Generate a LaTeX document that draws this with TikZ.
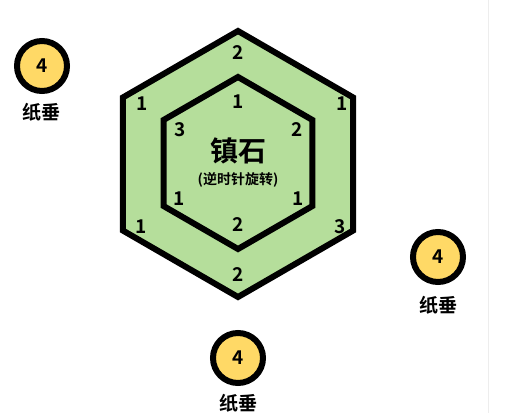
\documentclass[tikz,border=0pt]{standalone}
\usepackage{fontspec}
\setmainfont{Noto Sans CJK SC}[BoldFont={Noto Sans CJK SC Bold}]
\usetikzlibrary{shapes.geometric}
\definecolor{stonegreen}{RGB}{181,222,155}
\definecolor{weightyellow}{RGB}{255,217,102}

\begin{document}
\begin{tikzpicture}[x=1pt, y=-1pt,
    hexring/.style={regular polygon, regular polygon sides=6, shape border rotate=30,
        draw=black, line width=6pt, fill=stonegreen, inner sep=0pt},
    weight/.style={circle, draw=black, line width=6pt, fill=weightyellow,
        minimum size=50pt, inner sep=0pt, font=\bfseries\fontsize{19}{19}\selectfont},
    num/.style={font=\bfseries\fontsize{19}{19}\selectfont, inner sep=0pt},
    tag/.style={font=\bfseries\fontsize{19}{19}\selectfont, inner sep=0pt}]
                \useasboundingbox (0,0) rectangle (528,413);
                \draw[black!7, line width=1pt] (488,0) -- (488,413);

                % stone
                \node[hexring, minimum size=266pt] (outer) at (238,164) {};
                \node[hexring, minimum size=172pt] (inner) at (238,163) {};

                \node[font=\bfseries\fontsize{28}{28}\selectfont, inner sep=0pt] (stone) at (238,151) {镇石};
                \node[font=\bfseries\fontsize{14}{14}\selectfont, inner sep=0pt] (turn) at (238,180) {(逆时针旋转)};

                % outer ring numbers
                \node[num] (o1) at (238,53) {2};
                \node[num] (o2) at (342,104) {1};
                \node[num] (o3) at (340,227) {3};
                \node[num] (o4) at (238,275) {2};
                \node[num] (o5) at (141,227) {1};
                \node[num] (o6) at (142,104) {1};

                % inner ring numbers
                \node[num] (i1) at (238,102) {1};
                \node[num] (i2) at (297,130) {2};
                \node[num] (i3) at (298,199) {1};
                \node[num] (i4) at (238,225) {2};
                \node[num] (i5) at (179,199) {1};
                \node[num] (i6) at (180,130) {3};

                % weights
                \node[weight] (w1) at (42,66) {4};
                \node[tag] (t1) at (42,112) {纸垂};
                \node[weight] (w2) at (438,257) {4};
                \node[tag] (t2) at (438,305) {纸垂};
                \node[weight] (w3) at (238,358) {4};
                \node[tag] (t3) at (238,403) {纸垂};

\end{tikzpicture}
\end{document}
